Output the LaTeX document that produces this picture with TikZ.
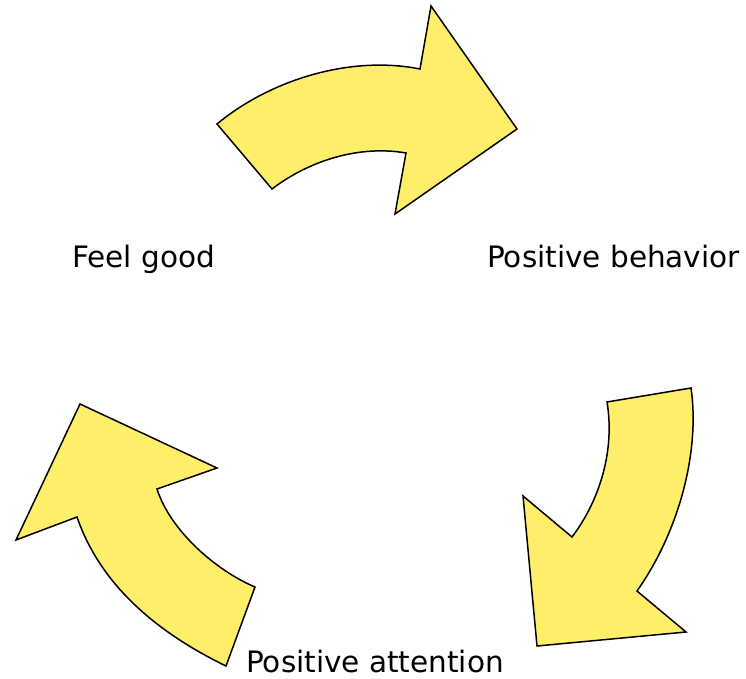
\documentclass[tikz,border=0pt]{standalone}
\usepackage{fontspec}
\setmainfont{DejaVu Sans}
\definecolor{arrowfill}{RGB}{255,238,106}
\begin{document}
\begin{tikzpicture}[x=1pt,y=-1pt,
  bigarrow/.style={draw=black,fill=arrowfill,line width=1.5pt,line join=miter},
  lbl/.style={anchor=base west,inner sep=0pt,font=\fontsize{29.5}{34}\selectfont}]
\useasboundingbox (0,0) rectangle (746,679);
% top arrow
\path[bigarrow] (217,124) .. controls (270,80) and (350,55) .. (420,69)
  -- (431,6) -- (517,129) -- (395,214) -- (406,153)
  .. controls (360,145) and (310,160) .. (272,189) -- cycle;
% right arrow
\path[bigarrow] (691,388) .. controls (700,450) and (680,530) .. (637,591)
  -- (686,632) -- (537,646) -- (523,496) -- (572,537)
  .. controls (600,500) and (615,450) .. (607,402) -- cycle;
% left arrow
\path[bigarrow] (226,666) .. controls (160,634) and (101,587) .. (77,517)
  -- (16,540) -- (80,404) -- (217,468) -- (157,489)
  .. controls (170,530) and (215,570) .. (255,587) -- cycle;
\node[lbl] (feel) at (72,267) {Feel good};
\node[lbl] (beh) at (487,267) {Positive behavior};
\node[lbl] (att) at (246,672) {Positive attention};
\end{tikzpicture}
\end{document}
